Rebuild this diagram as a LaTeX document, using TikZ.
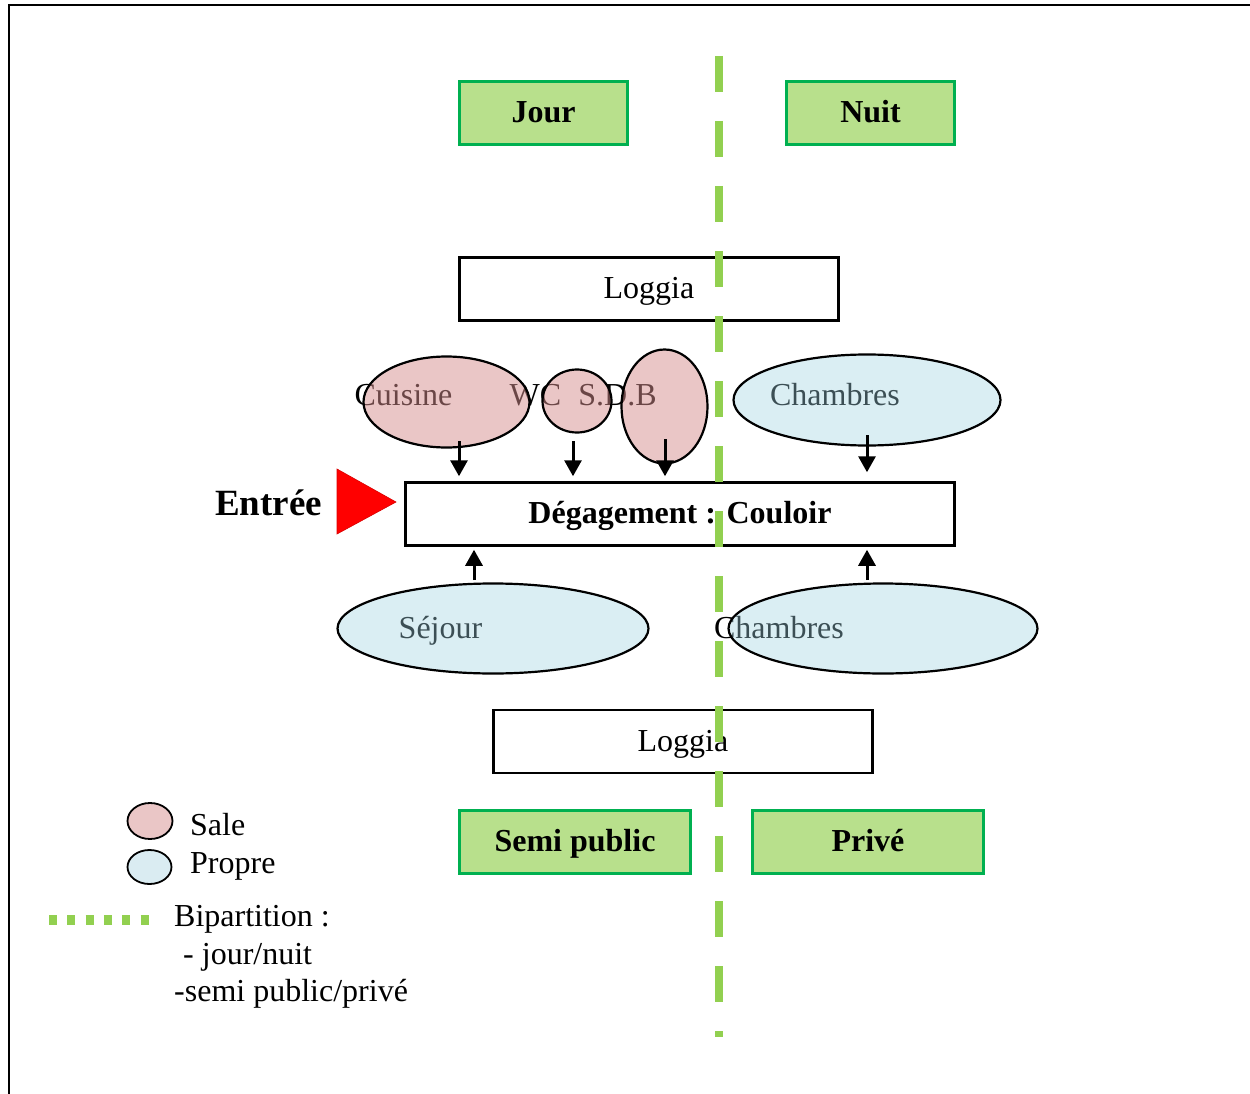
\documentclass[tikz,border=0pt]{standalone}
\usepackage{fontspec}
\setmainfont{Liberation Serif}
\usetikzlibrary{shapes.geometric,arrows.meta,calc}

\definecolor{zonefill}{RGB}{184,224,140}
\definecolor{zoneedge}{RGB}{0,176,80}
\definecolor{splitgreen}{RGB}{146,208,80}
\definecolor{dirtyfill}{RGB}{213,141,141}
\definecolor{cleanfill}{RGB}{158,210,224}

\tikzset{
  txt/.style={font=\fontsize{32}{38}\selectfont},
  boldtxt/.style={font=\fontsize{32}{38}\selectfont\bfseries},
  zone/.style={rectangle, draw=zoneedge, line width=2.2pt, fill=zonefill,
    minimum width=168, minimum height=63, inner sep=0pt,
    text height=22pt, text depth=3pt, boldtxt},
  room/.style={rectangle, draw=black, line width=2.5pt, fill=white,
    minimum height=63, inner sep=0pt, text height=22pt, text depth=3pt},
  label/.style={anchor=base, inner sep=0pt, txt},
  dirty/.style={ellipse, draw=black, line width=2.2pt, fill=dirtyfill,
    fill opacity=0.5, inner sep=0pt},
  clean/.style={ellipse, draw=black, line width=2.2pt, fill=cleanfill,
    fill opacity=0.38, inner sep=0pt},
  flow/.style={line width=3pt, -{Triangle[width=17pt,length=16pt]}},
  split/.style={splitgreen, line width=8pt, dash pattern=on 36pt off 29pt},
}

\begin{document}
\begin{tikzpicture}[x=1pt, y=-1pt]
\useasboundingbox (0,0) rectangle (1250,1094);

% frame (top and left edges)
\draw[line width=2.2pt] (9,1094) -- (9,5) -- (1250,5);

% zone headers
\node[zone] (jour) at (543.5,113) {Jour};
\node[zone] (nuit) at (870.5,113) {Nuit};
\node[zone, minimum width=231] (semi) at (575,842) {Semi public};
\node[zone, minimum width=231] (prive) at (868,842) {Privé};

% rooms drawn as boxes
\node[room, minimum width=379, txt] (loggiaH) at (649,289) {Loggia};
\node[room, minimum width=549, boldtxt] (deg) at (680,514) {Dégagement : Couloir};
\node[room, minimum width=379, txt] (loggiaB) at (683,741.5) {Loggia};

% room names under the tinted ellipses
\node[label] (tCuisine) at (403.5,405.5) {Cuisine};
\node[label] (tWC) at (535.5,405.5) {WC};
\node[label] (tSDB) at (617.5,405.5) {S.D.B};
\node[label] (tChN) at (835,405) {Chambres};
\node[label] (tSejour) at (440.5,638.5) {Séjour};
\node[label] (tChS) at (779,638.5) {Chambres};

% tinted ellipses: wet rooms and dry rooms
\node[dirty, minimum width=166, minimum height=91] (cuisine) at (446.5,402) {};
\node[dirty, minimum width=69, minimum height=63] (wc) at (577,401) {};
\node[dirty, minimum width=86, minimum height=114] (sdb) at (664.5,406.5) {};
\node[clean, minimum width=267, minimum height=91] (chN) at (867,400) {};
\node[clean, minimum width=311, minimum height=90] (sejour) at (493,628.5) {};
\node[clean, minimum width=309, minimum height=90] (chS) at (883,628.5) {};

% access links to the corridor
\draw[flow] ($(cuisine.center)+(12.5,39)$) -- ($(deg.north)+(-221,-5)$);
\draw[flow] ($(wc.center)+(-4,40)$) -- ($(deg.north)+(-107,-5)$);
\draw[flow] ($(sdb.center)+(0.5,32.5)$) -- ($(deg.north)+(-15,-5)$);
\draw[flow] ($(chN.center)+(0,35)$) -- ($(deg.north)+(187,-9)$);
\draw[flow] ($(sejour.center)+(-19,-48.5)$) -- ($(deg.south)+(-206,3)$);
\draw[flow] ($(chS.center)+(-16,-48.5)$) -- ($(deg.south)+(187,3)$);

% entrance
\node[anchor=base, inner sep=0pt, font=\fontsize{37}{44}\selectfont\bfseries] (entree) at (268.5,515) {Entrée};
\fill[red, draw=red!85!black, line width=0.6pt] (337,469) -- (337,534) -- (396,502) -- cycle;

% day/night and semi-public/private split
\coordinate (divT) at (719,56);
\coordinate (divB) at (719,1037);
\draw[split] (divT) -- (divB);

% legend
\node[ellipse, draw=black, line width=1.8pt, fill={rgb,255:red,234;green,198;blue,198},
  minimum width=45, minimum height=36, inner sep=0pt] (kDirty) at (150,821) {};
\node[ellipse, draw=black, line width=1.8pt, fill={rgb,255:red,218;green,236;blue,242},
  minimum width=44, minimum height=34, inner sep=0pt] (kClean) at (149.5,867) {};
\node[txt, anchor=base west, inner sep=0pt] (lSale) at (190,835) {Sale};
\node[txt, anchor=base west, inner sep=0pt] (lPropre) at (190,873) {Propre};
\coordinate (kSplitA) at (49,920);
\coordinate (kSplitB) at (150,920);
\draw[splitgreen, line width=9.5pt, dash pattern=on 8pt off 10.3pt] (kSplitA) -- (kSplitB);
\node[txt, anchor=base west, inner sep=0pt] (lBip) at (174,926) {Bipartition :};
\node[txt, anchor=base west, inner sep=0pt] (lJN) at (183,964) {- jour/nuit};
\node[txt, anchor=base west, inner sep=0pt] (lSP) at (174,1001) {-semi public/privé};
\end{tikzpicture}
\end{document}
